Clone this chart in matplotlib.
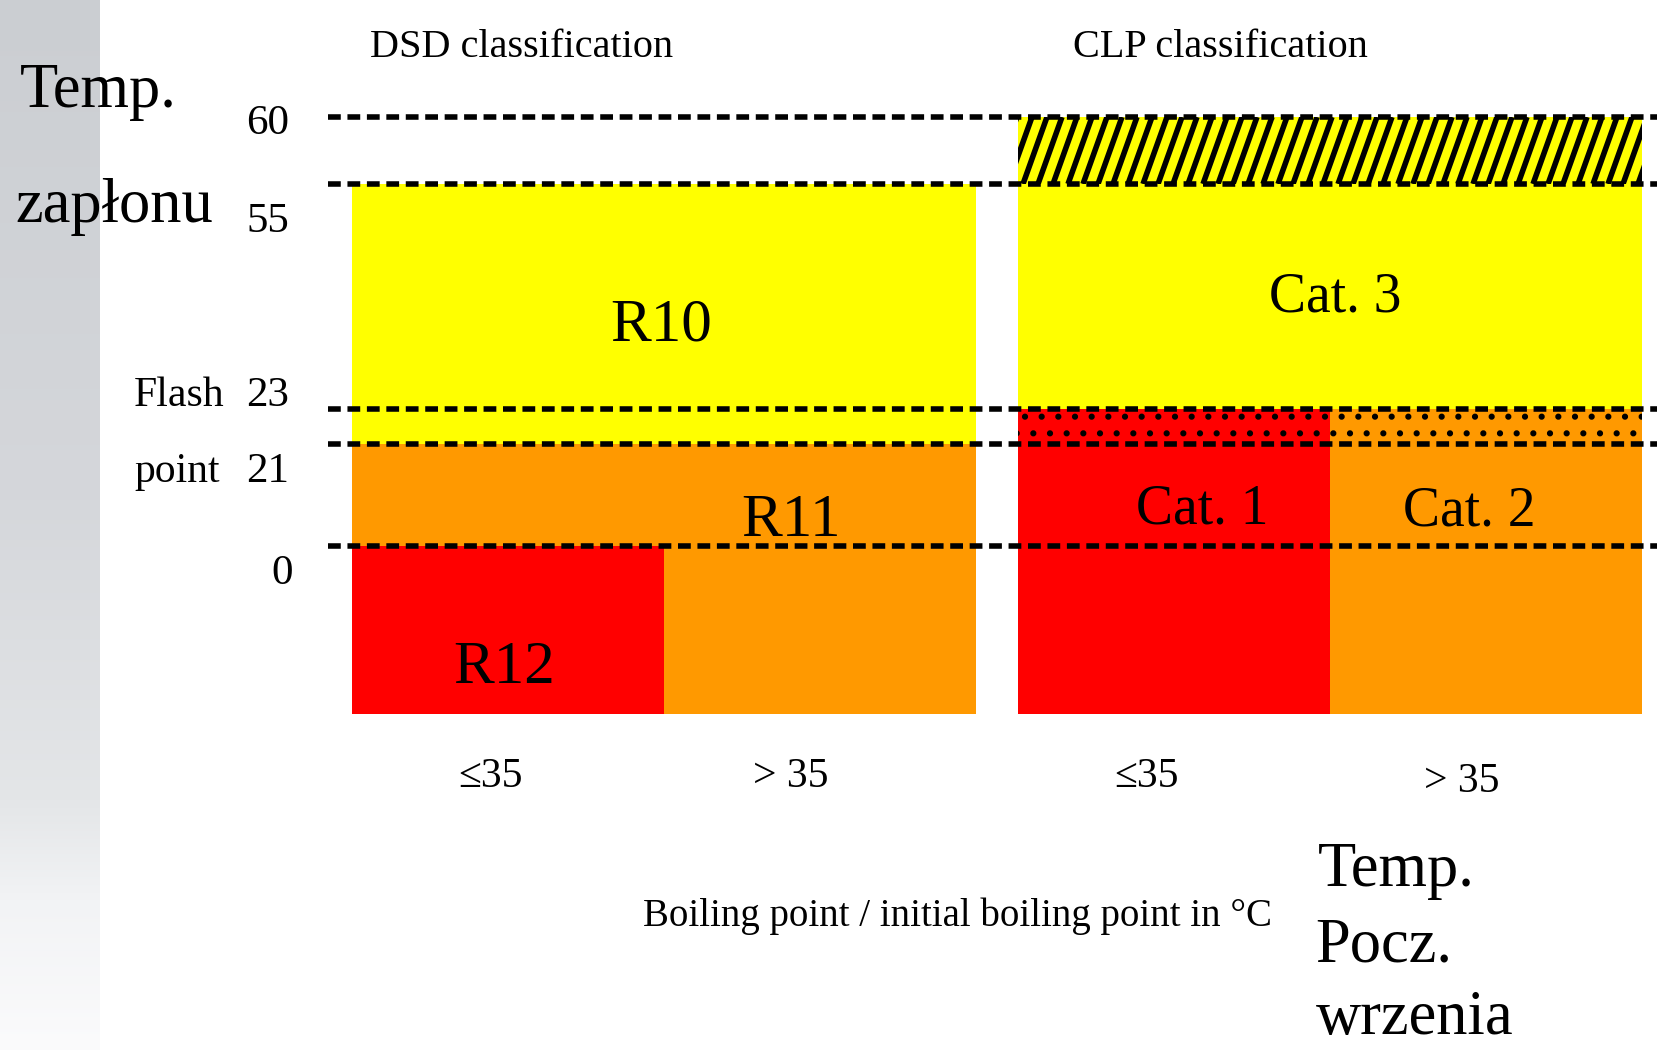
import numpy as np
import matplotlib
matplotlib.use('Agg')
import matplotlib.pyplot as plt
from matplotlib.collections import LineCollection

# Rozmiar obrazu (px) i dpi
W, H = 1658, 1050
DPI = 100
SERIF = ['Liberation Serif', 'DejaVu Serif']

# --- Dane ---
# Progi temperatury zapłonu (°C) i etykiety osi
flash_levels = [60, 55, 23, 21, 0]
flash_labels = ['60', '55', '23', '21', '0']
# Kolumny: temperatura początku wrzenia
bp_labels = ['≤35', '> 35']
FLOOR = -20  # dolna krawędź schematu (przedział otwarty poniżej 0)

# Klasyfikacja DSD
dsd_names = ['R10', 'R11', 'R11', 'R12']
dsd_col_from = [0, 0, 1, 0]
dsd_col_to = [2, 2, 2, 1]
dsd_t_low = [21, 0, FLOOR, FLOOR]
dsd_t_high = [55, 21, 0, 0]

# Klasyfikacja CLP
clp_names = ['Cat. 3', 'Cat. 3', 'Cat. 1', 'Cat. 2', 'Cat. 1', 'Cat. 2']
clp_col_from = [0, 0, 0, 1, 0, 1]
clp_col_to = [2, 2, 1, 2, 1, 2]
clp_t_low = [55, 23, 21, 21, FLOOR, FLOOR]
clp_t_high = [60, 55, 23, 23, 21, 21]
clp_pattern = ['stripes', None, 'dots', 'dots', None, None]

COLORS = {
    'R10': '#FFFF00', 'R11': '#FF9900', 'R12': '#FF0000',
    'Cat. 3': '#FFFF00', 'Cat. 2': '#FF9900', 'Cat. 1': '#FF0000',
}

# Schemat nie jest liniowy: położenie progów na rysunku (px od góry)
T_ANCHOR = [-75, FLOOR, 0, 21, 23, 55, 60, 80]
PX_ANCHOR = [1050, 714, 546, 444, 409, 184, 117, 0]

PANEL_LEFT = {'DSD': 352, 'CLP': 1018}
COL_W = 312
LINE_START = 328


def fwd(t):
    return -np.interp(t, T_ANCHOR, PX_ANCHOR)


def inv(v):
    return np.interp(-np.asarray(v), PX_ANCHOR[::-1], T_ANCHOR[::-1])


def put(fig, x, y, s, size, ha='center', va='baseline', center=False):
    """Tekst w pikselach obrazu (od lewego górnego rogu)"""
    if center:
        # y = środek wysokości wersalików -> linia bazowa
        y = y + 0.33 * size * DPI / 72
    fig.text(x / W, 1 - y / H, s, fontsize=size, ha=ha, va=va, family=SERIF)


def draw_background(fig):
    """Szary pasek po lewej stronie (gradient)"""
    ax_bg = fig.add_axes([0, 0, 100 / W, 1])
    ys = np.arange(H)
    stops_y = [0, 500, 800, 900, H]
    stops_c = np.array([[203, 206, 210], [213, 215, 219], [228, 230, 232],
                        [242, 243, 245], [251, 251, 252]]) / 255
    grad = np.stack([np.interp(ys, stops_y, stops_c[:, k]) for k in range(3)], axis=1)
    ax_bg.imshow(grad[:, None, :], aspect='auto', extent=(0, 1, 0, 1), origin='upper')
    ax_bg.axis('off')


def draw_panel(ax, panel, names, c_from, c_to, t_low, t_high, patterns=None):
    left = PANEL_LEFT[panel]
    if patterns is None:
        patterns = [None] * len(names)
    for name, c0, c1, lo, hi, pat in zip(names, c_from, c_to, t_low, t_high, patterns):
        x0 = left + c0 * COL_W
        width = (c1 - c0) * COL_W
        bars = ax.bar(x0, hi - lo, bottom=lo, width=width, align='edge',
                      color=COLORS[name], linewidth=0, zorder=1,
                      hatch='.' if pat == 'dots' else None,
                      edgecolor='black' if pat == 'dots' else None)
        if pat == 'stripes':
            # ukośne kreski jak w oryginale
            xs = np.arange(x0 - 40, x0 + width + 40, 15)
            segs = [[(x, lo), (x + 24, hi)] for x in xs]
            lc = LineCollection(segs, colors='black', linewidths=4.0, zorder=2)
            ax.add_collection(lc, autolim=False)
            lc.set_clip_path(bars[0])


def main():
    plt.rcParams['hatch.linewidth'] = 2.0
    plt.rcParams['hatch.color'] = 'black'

    fig = plt.figure(figsize=(W / DPI, H / DPI), dpi=DPI)
    fig.patch.set_facecolor('white')
    draw_background(fig)

    ax = fig.add_axes([0, 0, 1, 1])
    ax.set_xlim(0, W)
    ax.set_yscale('function', functions=(fwd, inv))
    ax.set_ylim(T_ANCHOR[0], T_ANCHOR[-1])
    ax.axis('off')

    draw_panel(ax, 'DSD', dsd_names, dsd_col_from, dsd_col_to, dsd_t_low, dsd_t_high)
    draw_panel(ax, 'CLP', clp_names, clp_col_from, clp_col_to, clp_t_low, clp_t_high,
               clp_pattern)

    # Przerywane linie progów
    ax.hlines(flash_levels, LINE_START, W, colors='black',
              linestyles=(0, (2.3, 1.2)), linewidth=4, zorder=3)

    # Tytuły paneli
    put(fig, 522, 44, 'DSD classification', 29, center=True)
    put(fig, 1220, 44, 'CLP classification', 29, center=True)

    # Etykiety osi Y
    tick_y = [120, 218, 392, 468, 570]
    tick_x = [289, 289, 289, 289, 293]
    for lab, x, y in zip(flash_labels, tick_x, tick_y):
        put(fig, x, y, lab, 31, ha='right', center=True)
    put(fig, 134, 392, 'Flash', 30, ha='left', center=True)
    put(fig, 134, 468, 'point', 30, ha='left', center=True)

    # Etykiety kategorii
    put(fig, 661, 320, 'R10', 44, center=True)
    put(fig, 791, 516, 'R11', 44, center=True)
    put(fig, 504, 663, 'R12', 44, center=True)
    put(fig, 1335, 293, 'Cat. 3', 40, center=True)
    put(fig, 1202, 505, 'Cat. 1', 40, center=True)
    put(fig, 1469, 507, 'Cat. 2', 40, center=True)

    # Etykiety kolumn (temperatura wrzenia)
    put(fig, 490, 773, bp_labels[0], 30, center=True)
    put(fig, 791, 773, bp_labels[1], 30, center=True)
    put(fig, 1147, 773, bp_labels[0], 30, center=True)
    put(fig, 1462, 778, bp_labels[1], 30, center=True)
    put(fig, 958, 913, 'Boiling point / initial boiling point in °C', 28, center=True)

    # Polskie opisy osi
    put(fig, 20, 107, 'Temp.', 45, ha='left')
    put(fig, 15, 222, 'zapłonu', 45, ha='left')
    put(fig, 1318, 886, 'Temp.', 45, ha='left')
    put(fig, 1315, 961, 'Pocz.', 45, ha='left')
    put(fig, 1316, 1034, 'wrzenia', 45, ha='left')

    fig.savefig('out.png', dpi=DPI)
    plt.close(fig)


if __name__ == "__main__":
    main()
